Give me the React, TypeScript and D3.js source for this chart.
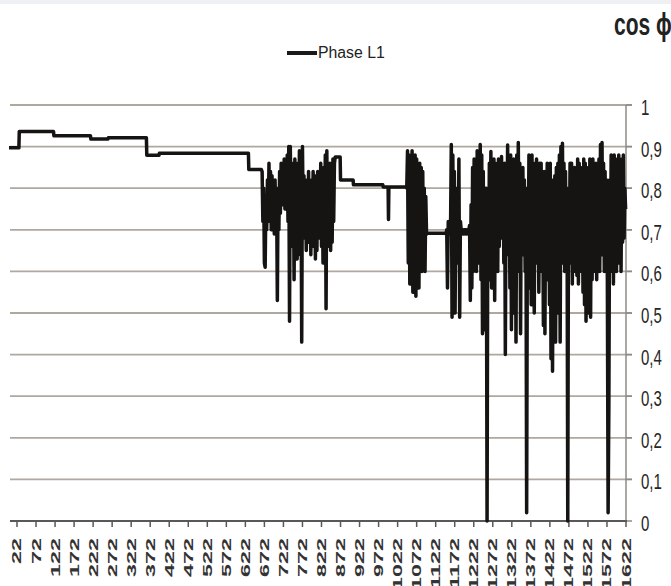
import React from 'react';
import * as d3 from 'd3';

const W = 671;
const H = 586;

// x-axis category ticks (sample number)
const xTickValues = [
  22, 72, 122, 172, 222, 272, 322, 372, 422, 472, 522, 572, 622, 672, 722, 772,
  822, 872, 922, 972, 1022, 1072, 1122, 1172, 1222, 1272, 1322, 1372, 1422, 1472,
  1522, 1572, 1622,
];

// y-axis ticks and their labels (decimal comma)
const yTickValues = [0, 0.1, 0.2, 0.3, 0.4, 0.5, 0.6, 0.7, 0.8, 0.9, 1];
const yTickLabels = ['0', '0,1', '0,2', '0,3', '0,4', '0,5', '0,6', '0,7', '0,8', '0,9', '1'];

// steady stretches of the power factor: [first sample, last sample, cos phi]
const levelSegments: [number, number, number][] = [
  [1, 27, 0.897],
  [28, 118, 0.936],
  [119, 215, 0.926],
  [216, 261, 0.918],
  [262, 362, 0.921],
  [363, 395, 0.879],
  [396, 630, 0.884],
  [631, 664, 0.845],
  [858, 871, 0.875],
  [872, 905, 0.82],
  [906, 983, 0.808],
  [984, 997, 0.803],
  [998, 998, 0.725],
  [999, 1044, 0.803],
  [1100, 1148, 0.692],
];

// fluctuating stretches, one reading every second sample
const sampleStep = 2;

const burst1Start = 666;
const burst1 = [
  0.84, 0.72, 0.80, 0.62, 0.61, 0.78, 0.70, 0.82, 0.72, 0.86, 0.74, 0.84,
  0.70, 0.83, 0.71, 0.80, 0.69, 0.82, 0.72, 0.79, 0.53, 0.80, 0.70, 0.84,
  0.74, 0.86, 0.76, 0.83, 0.78, 0.87, 0.75, 0.85, 0.80, 0.88, 0.72, 0.90,
  0.48, 0.90, 0.78, 0.86, 0.66, 0.84, 0.58, 0.87, 0.74, 0.86, 0.63, 0.83,
  0.70, 0.89, 0.64, 0.86, 0.43, 0.90, 0.72, 0.83, 0.68, 0.80, 0.65, 0.82,
  0.67, 0.84, 0.70, 0.80, 0.64, 0.82, 0.66, 0.84, 0.70, 0.83, 0.63, 0.81,
  0.65, 0.84, 0.68, 0.82, 0.70, 0.86, 0.66, 0.83, 0.62, 0.85, 0.71, 0.88,
  0.51, 0.89, 0.66, 0.84, 0.68, 0.86, 0.65, 0.85, 0.67, 0.87, 0.72, 0.86,
];

const burst2Start = 1046;
const burst2 = [
  0.80, 0.89, 0.62, 0.88, 0.57, 0.87, 0.64, 0.89, 0.55, 0.86, 0.60, 0.88,
  0.54, 0.87, 0.58, 0.84, 0.56, 0.86, 0.62, 0.85, 0.60, 0.84, 0.62, 0.80,
  0.60, 0.78, 0.69,
];

const burst3Start = 1149;
const burst3 = [
  0.69, 0.70, 0.56, 0.72, 0.69, 0.71, 0.70, 0.905, 0.49, 0.88, 0.60, 0.84,
  0.50, 0.80, 0.62, 0.78, 0.66, 0.87, 0.49, 0.72, 0.70, 0.69, 0.70, 0.69,
  0.70, 0.69, 0.70, 0.69, 0.70, 0.69, 0.70, 0.71, 0.53, 0.76, 0.56, 0.85,
  0.60, 0.87, 0.62, 0.84, 0.60, 0.89, 0.62, 0.86, 0.64, 0.905, 0.58, 0.88,
  0.45, 0.84, 0.46, 0.80, 0.55, 0.80, 0.00, 0.78, 0.60, 0.86, 0.58, 0.888,
  0.56, 0.85, 0.64, 0.87, 0.53, 0.86, 0.62, 0.84, 0.60, 0.87, 0.66, 0.82,
  0.71, 0.876, 0.68, 0.85, 0.62, 0.86, 0.40, 0.83, 0.70, 0.904, 0.64, 0.86,
  0.56, 0.88, 0.46, 0.84, 0.62, 0.87, 0.50, 0.85, 0.43, 0.88, 0.60, 0.91,
  0.66, 0.86, 0.45, 0.84, 0.64, 0.85, 0.66, 0.82, 0.60, 0.80, 0.02, 0.76,
  0.62, 0.88, 0.56, 0.86, 0.52, 0.88, 0.64, 0.84, 0.50, 0.86, 0.66, 0.87,
  0.62, 0.84, 0.55, 0.86, 0.66, 0.86, 0.60, 0.80, 0.47, 0.84, 0.45, 0.82,
  0.64, 0.86, 0.58, 0.84, 0.52, 0.86, 0.39, 0.82, 0.36, 0.80, 0.48, 0.83,
  0.43, 0.85, 0.60, 0.86, 0.50, 0.88, 0.43, 0.90, 0.62, 0.908, 0.66, 0.86,
  0.60, 0.84, 0.64, 0.80, 0.00, 0.78, 0.62, 0.86, 0.66, 0.86, 0.57, 0.84,
  0.62, 0.85, 0.60, 0.83, 0.59, 0.87, 0.57, 0.86, 0.64, 0.84, 0.60, 0.85,
  0.55, 0.87, 0.52, 0.86, 0.48, 0.84, 0.50, 0.85, 0.52, 0.87, 0.49, 0.86,
  0.58, 0.87, 0.62, 0.84, 0.60, 0.86, 0.58, 0.85, 0.62, 0.87, 0.60, 0.905,
  0.66, 0.91, 0.64, 0.86, 0.60, 0.84, 0.70, 0.82, 0.58, 0.02, 0.28, 0.82,
  0.60, 0.88, 0.64, 0.86, 0.57, 0.88, 0.66, 0.85, 0.60, 0.87, 0.62, 0.88,
  0.65, 0.86, 0.60, 0.87, 0.67, 0.88, 0.68, 0.80, 0.75,
];

type Pt = { i: number; v: number };

function buildSeries(): Pt[] {
  const pts: Pt[] = [];
  levelSegments.forEach(([a, b, v]) => {
    pts.push({ i: a, v });
    if (b !== a) pts.push({ i: b, v });
  });
  const addBurst = (start: number, vals: number[]) =>
    vals.forEach((v, k) => pts.push({ i: start + k * sampleStep, v }));
  addBurst(burst1Start, burst1);
  addBurst(burst2Start, burst2);
  addBurst(burst3Start, burst3);
  pts.sort((p, q) => p.i - q.i);
  return pts;
}

const series = buildSeries();

const plot = { left: 9, right: 626, top: 105, bottom: 521 };

export default function App() {
  const x = d3.scaleLinear().domain([1, 1622]).range([plot.left, plot.right]);
  const y = d3.scaleLinear().domain([0, 1]).range([plot.bottom, plot.top]);
  const line = d3
    .line<Pt>()
    .x((d) => x(d.i))
    .y((d) => y(d.v));

  const gridColor = '#b0a79f';
  const textColor = '#262626';

  return (
    <svg
      width={W}
      height={H}
      style={{ position: 'absolute', left: 0, top: 0, background: '#fff' }}
    >
      <rect x={0} y={0} width={W} height={4} fill="#eef0f4" />

      {/* horizontal gridlines */}
      {yTickValues.slice(1).map((t) => (
        <line
          key={t}
          x1={10}
          x2={plot.right + 6}
          y1={y(t)}
          y2={y(t)}
          stroke={gridColor}
          strokeWidth={1.8}
        />
      ))}

      {/* right value axis */}
      <line
        x1={plot.right}
        x2={plot.right}
        y1={y(1)}
        y2={y(0)}
        stroke="#8f8a86"
        strokeWidth={1.5}
      />
      {yTickValues.map((t, k) => (
        <g key={t}>
          <line
            x1={plot.right}
            x2={plot.right + 6}
            y1={y(t)}
            y2={y(t)}
            stroke="#8f8a86"
            strokeWidth={1.5}
          />
          <text
            transform={`translate(641,${y(t) + 10}) scale(1,1.45)`}
            fontFamily="'Liberation Sans', Arial, sans-serif"
            fontSize={15}
            fill={textColor}
          >
            {yTickLabels[k]}
          </text>
        </g>
      ))}

      {/* category axis */}
      <line
        x1={10}
        x2={plot.right + 1}
        y1={y(0)}
        y2={y(0)}
        stroke="#5a5855"
        strokeWidth={2}
      />
      {xTickValues.map((t) => (
        <g key={t}>
          <line
            x1={x(t)}
            x2={x(t)}
            y1={y(0)}
            y2={y(0) + 6}
            stroke="#5a5855"
            strokeWidth={1.5}
          />
          <text
            transform={`translate(${x(t)},538) scale(1,1.87) rotate(-90)`}
            textAnchor="end"
            dy="0.36em"
            fontFamily="'Liberation Sans', Arial, sans-serif"
            fontWeight="bold"
            fontSize={12.5}
            fill="#333"
          >
            {t}
          </text>
        </g>
      ))}

      {/* Phase L1 power factor */}
      <path
        d={line(series) ?? ''}
        fill="none"
        stroke="#151412"
        strokeWidth={3.5}
        strokeLinejoin="round"
      />

      {/* legend */}
      <line x1={287} x2={317} y1={53} y2={53} stroke="#1a1a1a" strokeWidth={4} />
      <text
        x={318}
        y={58}
        fontFamily="'Liberation Sans', Arial, sans-serif"
        fontSize={15.8}
        fill="#222"
      >
        Phase L1
      </text>

      {/* axis title */}
      <text
        transform="translate(614,35) scale(1,1.5)"
        fontFamily="'Liberation Sans', 'DejaVu Sans', sans-serif"
        fontWeight="bold"
        fontSize={21}
        fill="#222"
      >
        cos ϕ
      </text>
    </svg>
  );
}
